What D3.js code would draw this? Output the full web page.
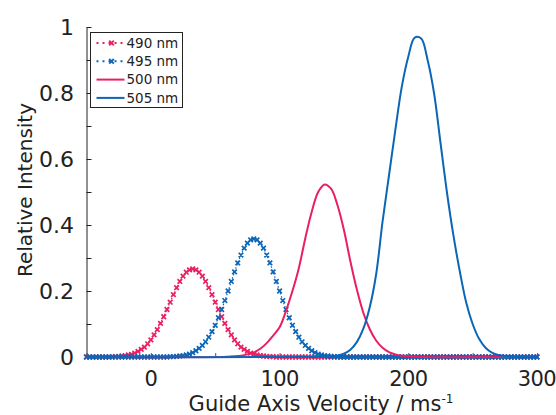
<!DOCTYPE html>
<html>
<head>
<meta charset="utf-8">
<script src="https://cdn.jsdelivr.net/npm/d3@7"></script>
<style>
  body { margin: 0; background: #fff; }
  text { font-family: "DejaVu Sans", Verdana, sans-serif; fill: #222; }
</style>
</head>
<body>
<svg id="chart"></svg>
<script>
// velocity grid (m/s) shared by the marker series
const velocity = d3.range(-50, 300.01, 2.5);

// 490 nm, dotted with markers
const int490 = [
    0, 0, 0, 0, 0, 0, 0, 0,
    0.001, 0.001, 0.002, 0.003, 0.004, 0.006, 0.008, 0.012, 0.017, 0.023, 0.030, 0.040,
    0.052, 0.067, 0.083, 0.102, 0.122, 0.144, 0.166, 0.189, 0.210, 0.229,
    0.245, 0.257, 0.264, 0.267, 0.264, 0.257, 0.245, 0.229, 0.210, 0.189,
    0.166, 0.144, 0.122, 0.102, 0.083, 0.067, 0.052, 0.040, 0.030, 0.023,
    0.017, 0.012, 0.008, 0.006, 0.004, 0.003, 0.002, 0.001, 0.001,
    0, 0, 0, 0, 0, 0, 0, 0, 0, 0, 0, 0, 0, 0, 0, 0, 0, 0, 0, 0,
    0, 0, 0, 0, 0, 0, 0, 0, 0, 0, 0, 0, 0, 0, 0, 0, 0, 0, 0, 0,
    0, 0, 0, 0, 0, 0, 0, 0, 0, 0, 0, 0, 0, 0, 0, 0, 0, 0, 0, 0,
    0, 0, 0, 0, 0, 0, 0, 0, 0, 0, 0, 0, 0, 0, 0, 0, 0, 0, 0, 0,
    0, 0
];

// 495 nm, dotted with markers
const int495 = [
    0, 0, 0, 0, 0, 0, 0, 0, 0, 0, 0, 0, 0, 0, 0, 0, 0, 0, 0, 0,
    0, 0, 0, 0, 0, 0,
    0.001, 0.001, 0.002, 0.003, 0.004, 0.006, 0.009, 0.013, 0.019, 0.026,
    0.035, 0.046, 0.060, 0.077, 0.096, 0.119, 0.144, 0.171, 0.200, 0.229,
    0.258, 0.285, 0.309, 0.330, 0.345, 0.355, 0.358, 0.355, 0.345, 0.330,
    0.309, 0.285, 0.258, 0.229, 0.200, 0.171, 0.144, 0.119, 0.096, 0.077,
    0.060, 0.046, 0.035, 0.026, 0.019, 0.013, 0.009, 0.006, 0.004, 0.003,
    0.002, 0.001, 0.001,
    0, 0, 0, 0, 0, 0, 0, 0, 0, 0, 0, 0, 0, 0, 0, 0, 0, 0, 0, 0,
    0, 0, 0, 0, 0, 0, 0, 0, 0, 0, 0, 0, 0, 0, 0, 0, 0, 0, 0, 0,
    0, 0, 0, 0, 0, 0, 0, 0, 0, 0, 0, 0, 0, 0, 0, 0, 0, 0, 0, 0,
    0, 0
];

// 500 nm, solid line
const vel500 = [-50, 55, 60, 65, 70, 75, 80, 85, 90, 95, 100, 105, 110, 115, 120, 125, 130, 135,
    140, 145, 150, 155, 160, 165, 170, 175, 180, 185, 190, 195, 200, 205, 210, 300];
const int500 = [0, 0, 0.001, 0.002, 0.004, 0.008, 0.014, 0.025, 0.042, 0.065, 0.090, 0.140, 0.200, 0.270, 0.360, 0.440, 0.500, 0.523,
    0.510, 0.460, 0.385, 0.290, 0.205, 0.135, 0.085, 0.050, 0.028, 0.015, 0.008, 0.004, 0.002, 0.001, 0, 0];

// 505 nm, solid line
const vel505 = [-50, 130, 135, 140, 145, 150, 155, 160, 165, 170, 175, 180, 185, 190, 195, 200, 205, 210,
    215, 220, 225, 230, 235, 240, 245, 250, 255, 260, 265, 270, 275, 280, 285, 300];
const int505 = [0, 0, 0.001, 0.002, 0.004, 0.010, 0.022, 0.045, 0.085, 0.150, 0.250, 0.410, 0.550, 0.690, 0.820, 0.910, 0.968, 0.965,
    0.900, 0.800, 0.650, 0.500, 0.370, 0.260, 0.165, 0.100, 0.055, 0.028, 0.013, 0.006, 0.003, 0.001, 0, 0];

const seriesNames = ['490 nm', '495 nm', '500 nm', '505 nm'];
const xTicks = [-50, 0, 50, 100, 150, 200, 250, 300];
const xLabels = [0, 100, 200, 300];
const yTicks = [0, 0.1, 0.2, 0.3, 0.4, 0.5, 0.6, 0.7, 0.8, 0.9, 1];
const yLabels = [0, 0.2, 0.4, 0.6, 0.8, 1];

const pink = '#ea1f5f';
const blue = '#0b66b8';

const width = 556;
const height = 415;

const svg = d3.select('#chart')
    .attr('width', width)
    .attr('height', height);

const x = d3.scaleLinear().domain([-50, 300]).range([86.5, 537]);
const y = d3.scaleLinear().domain([0, 1]).range([357, 27]);

// axes: ticks point into the plot
svg.append('g')
    .attr('transform', `translate(0, ${y(0)})`)
    .call(d3.axisBottom(x).tickValues(xTicks).tickSizeInner(-4).tickSizeOuter(0).tickFormat(''))
    .call(g => g.selectAll('line').attr('stroke', '#555'))
    .call(g => g.select('.domain').attr('stroke', '#222'));

svg.append('g')
    .attr('transform', `translate(${x(-50)}, 0)`)
    .call(d3.axisRight(y).tickValues(yTicks).tickSizeInner(5).tickSizeOuter(0).tickFormat(''))
    .call(g => g.select('.domain').attr('stroke', '#222'))
    .call(g => g.selectAll('line').attr('stroke', '#222'));

svg.append('g')
    .selectAll('text')
    .data(yLabels)
    .enter()
    .append('text')
    .attr('x', 74)
    .attr('y', d => y(d))
    .attr('dy', '0.36em')
    .attr('text-anchor', 'end')
    .style('font-size', '22px')
    .text(d => d);

// slightly tighter so "300" stays inside the right edge
svg.append('g')
    .selectAll('text')
    .data(xLabels)
    .enter()
    .append('text')
    .attr('x', d => x(d))
    .attr('y', 386)
    .attr('text-anchor', 'middle')
    .style('font-size', '21px')
    .style('letter-spacing', '-0.6px')
    .text(d => d);

svg.append('text')
    .attr('transform', 'translate(32, 190) rotate(-90)')
    .attr('text-anchor', 'middle')
    .style('font-size', '20px')
    .text('Relative Intensity');

const xTitle = svg.append('text')
    .attr('x', 321)
    .attr('y', 411)
    .attr('text-anchor', 'middle')
    .style('font-size', '21px');
xTitle.append('tspan').text('Guide Axis Velocity / ms');
xTitle.append('tspan').attr('dy', -8).style('font-size', '12px').text('-1');

// series
const plot = svg.append('g');
const line = d3.line().x(d => x(d[0])).y(d => y(d[1]));
const smooth = d3.line().x(d => x(d[0])).y(d => y(d[1])).curve(d3.curveCatmullRom);
const cross = 'M-2.3,-2.3L2.3,2.3M-2.3,2.3L2.3,-2.3';

function markerSeries(values, color) {
    const pts = velocity.map((v, i) => [v, values[i]]);
    plot.append('path')
        .attr('d', line(pts))
        .attr('fill', 'none')
        .attr('stroke', color)
        .attr('stroke-width', 1.2)
        .attr('stroke-dasharray', '1.5,2');
    plot.append('g')
        .selectAll('path')
        .data(pts)
        .enter()
        .append('path')
        .attr('transform', d => `translate(${x(d[0])}, ${y(d[1])})`)
        .attr('d', cross)
        .attr('stroke', color)
        .attr('stroke-width', 1.7)
        .attr('fill', 'none');
}

function lineSeries(vel, values, color) {
    plot.append('path')
        .attr('d', smooth(vel.map((v, i) => [v, values[i]])))
        .attr('fill', 'none')
        .attr('stroke', color)
        .attr('stroke-width', 2);
}

markerSeries(int490, pink);
markerSeries(int495, blue);
lineSeries(vel500, int500, pink);
lineSeries(vel505, int505, blue);

// legend
const legend = svg.append('g').attr('transform', 'translate(90.5, 32.5)');
legend.append('rect')
    .attr('width', 92)
    .attr('height', 75)
    .attr('fill', '#fff')
    .attr('stroke', '#222')
    .attr('stroke-width', 1);

const legendColors = [pink, blue, pink, blue];
seriesNames.forEach((name, i) => {
    const row = legend.append('g').attr('transform', `translate(0, ${10.5 + i * 18.3})`);
    if (i < 2) {
        row.append('line')
            .attr('x1', 6).attr('x2', 34).attr('y1', 0).attr('y2', 0)
            .attr('stroke', legendColors[i])
            .attr('stroke-width', 2)
            .attr('stroke-dasharray', '2,4');
        row.append('path')
            .attr('transform', 'translate(21, 0)')
            .attr('d', cross)
            .attr('stroke', legendColors[i])
            .attr('stroke-width', 1.8);
    } else {
        row.append('line')
            .attr('x1', 6).attr('x2', 34).attr('y1', 0).attr('y2', 0)
            .attr('stroke', legendColors[i])
            .attr('stroke-width', 2);
    }
    row.append('text')
        .attr('x', 36)
        .attr('dy', '0.36em')
        .style('font-size', '13.5px')
        .text(name);
});
</script>
</body>
</html>
